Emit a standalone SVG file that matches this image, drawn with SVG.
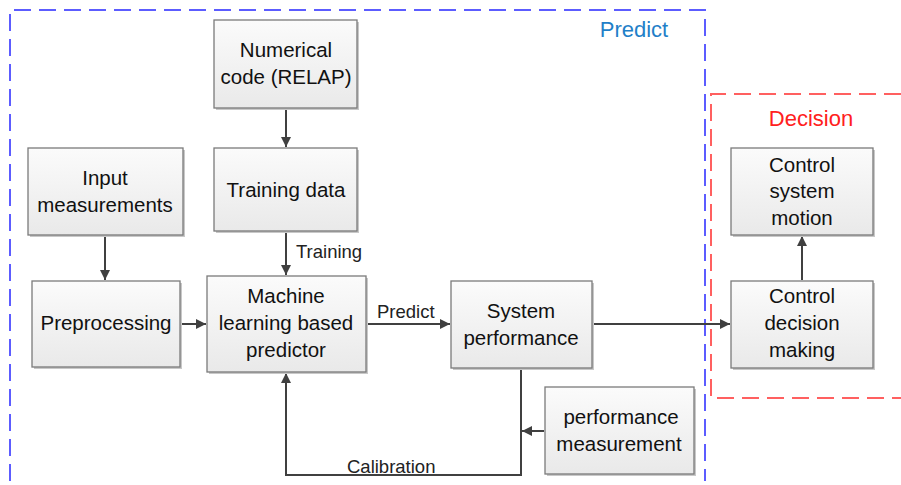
<svg xmlns="http://www.w3.org/2000/svg" width="901" height="485" viewBox="0 0 901 485">
<defs>
<linearGradient id="g" x1="0" y1="0" x2="0" y2="1">
<stop offset="0" stop-color="#fbfbfb"/>
<stop offset="1" stop-color="#e9e9e9"/>
</linearGradient>
<marker id="a" viewBox="0 0 10 10" refX="10" refY="5" markerWidth="10" markerHeight="10" markerUnits="userSpaceOnUse" orient="auto">
<path d="M0,0 L10,5 L0,10 Z" fill="#404040"/>
</marker>
</defs>
<style>
.box{fill:url(#g);stroke:#7a7a7a;stroke-width:1.3}
.sh{fill:#c8c8c8}
.t{font-family:"Liberation Sans",Arial,sans-serif;font-size:20.5px;fill:#111;text-anchor:middle}
.l{font-family:"Liberation Sans",Arial,sans-serif;font-size:18.5px;fill:#222}
.c{fill:none;stroke:#404040;stroke-width:2;marker-end:url(#a)}
</style>
<rect width="901" height="485" fill="#fff"/>
<g id="groups">
<path d="M10,481 L10,10 L705,10 L705,481" fill="none" stroke="#5c5cff" stroke-width="2" stroke-dasharray="17 8"/>
<text x="634" y="37" font-family="'Liberation Sans',Arial,sans-serif" font-size="22" fill="#1f7fc8" text-anchor="middle">Predict</text>
<path d="M901,94 L711,94 L711,398 L901,398" fill="none" stroke="#ff6060" stroke-width="2" stroke-dasharray="17 8"/>
<text x="811" y="126" font-family="'Liberation Sans',Arial,sans-serif" font-size="22" fill="#ff2020" text-anchor="middle">Decision</text>
</g>
<g id="connectors">
<line class="c" x1="286" y1="109" x2="286" y2="147"/>
<line class="c" x1="286" y1="232" x2="286" y2="275"/>
<line class="c" x1="105" y1="236" x2="105" y2="280"/>
<line class="c" x1="181" y1="324" x2="206" y2="324"/>
<line class="c" x1="367" y1="324" x2="450" y2="324"/>
<line class="c" x1="593" y1="324" x2="730" y2="324"/>
<line class="c" x1="802" y1="280" x2="802" y2="236"/>
<polyline class="c" points="521,369 521,475 286,475 286,373"/>
<line class="c" x1="544" y1="431" x2="522" y2="431"/>
<text class="l" x="296" y="258">Training</text>
<text class="l" x="377" y="318">Predict</text>
<text class="l" x="347" y="473">Calibration</text>
</g>
<g id="numerical">
<rect class="sh" x="216" y="22" width="143" height="88"/>
<rect class="box" x="214" y="20" width="143" height="88"/>
<text class="t" x="286" y="57">Numerical</text>
<text class="t" x="286" y="84">code (RELAP)</text>
</g>
<g id="training">
<rect class="sh" x="216" y="150" width="143" height="83"/>
<rect class="box" x="214" y="148" width="143" height="83"/>
<text class="t" x="286" y="197">Training data</text>
</g>
<g id="input">
<rect class="sh" x="30" y="150" width="155" height="87"/>
<rect class="box" x="28" y="148" width="155" height="87"/>
<text class="t" x="105" y="185">Input</text>
<text class="t" x="105" y="212">measurements</text>
</g>
<g id="preprocessing">
<rect class="sh" x="34" y="283" width="148" height="86"/>
<rect class="box" x="32" y="281" width="148" height="86"/>
<text class="t" x="106" y="330">Preprocessing</text>
</g>
<g id="ml">
<rect class="sh" x="209" y="278" width="159" height="96"/>
<rect class="box" x="207" y="276" width="159" height="96"/>
<text class="t" x="286" y="303">Machine</text>
<text class="t" x="286" y="330">learning based</text>
<text class="t" x="286" y="357">predictor</text>
</g>
<g id="sysperf">
<rect class="sh" x="453" y="283" width="141" height="87"/>
<rect class="box" x="451" y="281" width="141" height="87"/>
<text class="t" x="521" y="318">System</text>
<text class="t" x="521" y="345">performance</text>
</g>
<g id="perfmeas">
<rect class="sh" x="547" y="389" width="149" height="87"/>
<rect class="box" x="545" y="387" width="149" height="87"/>
<text class="t" x="621" y="424">performance</text>
<text class="t" x="619" y="451">measurement</text>
</g>
<g id="motion">
<rect class="sh" x="733" y="150" width="142" height="87"/>
<rect class="box" x="731" y="148" width="142" height="87"/>
<text class="t" x="802" y="172">Control</text>
<text class="t" x="802" y="198">system</text>
<text class="t" x="802" y="225">motion</text>
</g>
<g id="decision">
<rect class="sh" x="733" y="283" width="142" height="87"/>
<rect class="box" x="731" y="281" width="142" height="87"/>
<text class="t" x="802" y="303">Control</text>
<text class="t" x="802" y="330">decision</text>
<text class="t" x="802" y="357">making</text>
</g>
</svg>
